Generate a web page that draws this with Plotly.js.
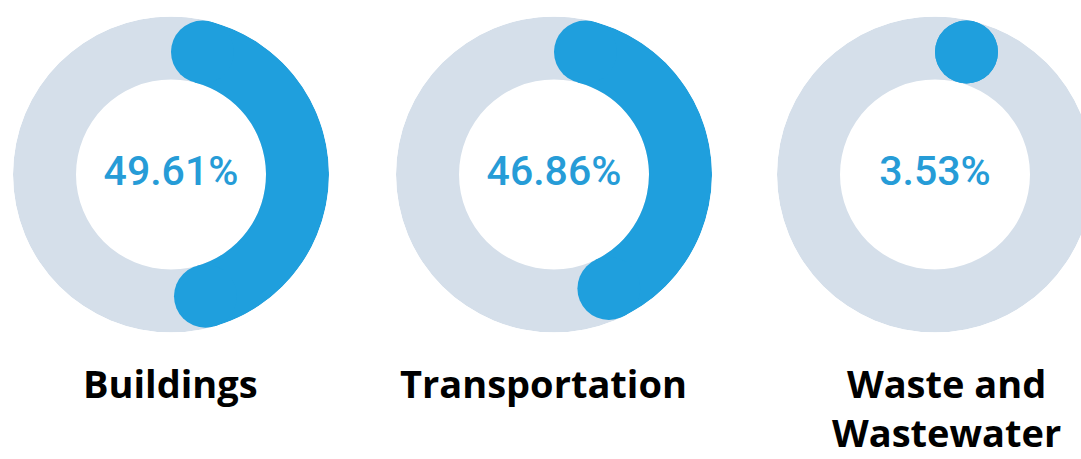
<!DOCTYPE html>
<html>
<head>
<meta charset="utf-8">
<script src="https://cdn.plot.ly/plotly-3.0.1.min.js"></script>
<style>
  html, body { margin: 0; padding: 0; background: #ffffff; overflow: hidden; }
  #wrap { width: 1081px; height: 459px; overflow: hidden; }
</style>
</head>
<body>
<div id="wrap"><div id="chart"></div></div>
<script>
// ---- data ----
const categories = ["Buildings", "Transportation", "Waste and<br>Wastewater"];
const shares = [49.61, 46.86, 3.53];          // percent
const shareLabels = ["49.61%", "46.86%", "3.53%"];

// ---- style / geometry ----
const W = 1100, H = 459;
const centersX = [171, 554, 935];
const centerY = 174.5;
const labelCentersX = [170.5, 543, 946];
const outerR = 158, innerR = 95;
const midR = (outerR + innerR) / 2;
const thick = outerR - innerR;
const capDeg = Math.asin((thick / 2) / midR) * 180 / Math.PI;
const ringColor = "#d5dfea";
const arcColor = "#1f9fdd";
const textColor = "#269cd7";

const traces = [];
const layout = {
  width: W, height: H,
  margin: {l: 0, r: 0, t: 0, b: 0},
  paper_bgcolor: "#ffffff",
  showlegend: false,
  annotations: []
};

categories.forEach((cat, i) => {
  const sub = i === 0 ? "polar" : "polar" + (i + 1);
  const cx = centersX[i];
  layout[sub] = {
    domain: {
      x: [(cx - outerR) / W, (cx + outerR) / W],
      y: [(H - centerY - outerR) / H, (H - centerY + outerR) / H]
    },
    bgcolor: "rgba(0,0,0,0)",
    hole: 0,
    radialaxis: {range: [0, outerR], autorange: false, visible: false, showgrid: false, showline: false, showticklabels: false, ticks: ""},
    angularaxis: {rotation: 90, direction: "clockwise", visible: false, showgrid: false, showline: false, showticklabels: false, ticks: ""},
    bargap: 0
  };
  // background ring
  traces.push({
    type: "barpolar", subplot: sub,
    r: [thick], base: [innerR], theta: [180], width: [360],
    marker: {color: ringColor, line: {width: 0}},
    hoverinfo: "skip"
  });
  // value arc (round caps: the visible extent incl. caps equals the share)
  const total = shares[i] * 3.6;
  const a0 = capDeg;
  const a1 = Math.max(capDeg, total - capDeg);
  if (a1 > a0) {
    traces.push({
      type: "barpolar", subplot: sub,
      r: [thick], base: [innerR], theta: [(a0 + a1) / 2], width: [a1 - a0],
      marker: {color: arcColor, line: {width: 0}},
      hoverinfo: "skip"
    });
  }
  traces.push({
    type: "scatterpolar", subplot: sub, mode: "markers",
    r: [midR, midR], theta: [a0, a1],
    marker: {size: thick, color: arcColor, line: {width: 0}},
    hoverinfo: "skip", cliponaxis: false
  });
  // centre value text
  traces.push({
    type: "scatterpolar", subplot: sub, mode: "text",
    r: [0], theta: [0], text: [shareLabels[i]],
    textposition: "middle center",
    textfont: {family: "Roboto, Liberation Sans, Arial, sans-serif", size: 41, color: textColor, weight: 500},
    hoverinfo: "skip", cliponaxis: false
  });
  // category label
  layout.annotations.push({
    xref: "paper", yref: "paper",
    x: labelCentersX[i] / W, y: (H - 355) / H,
    xanchor: "center", yanchor: "top",
    text: cat, showarrow: false, align: "center",
    font: {family: "Open Sans, sans-serif", size: 38, color: "#000000", weight: 700}
  });
});

Plotly.newPlot("chart", traces, layout, {staticPlot: true, displayModeBar: false});
</script>
</body>
</html>
